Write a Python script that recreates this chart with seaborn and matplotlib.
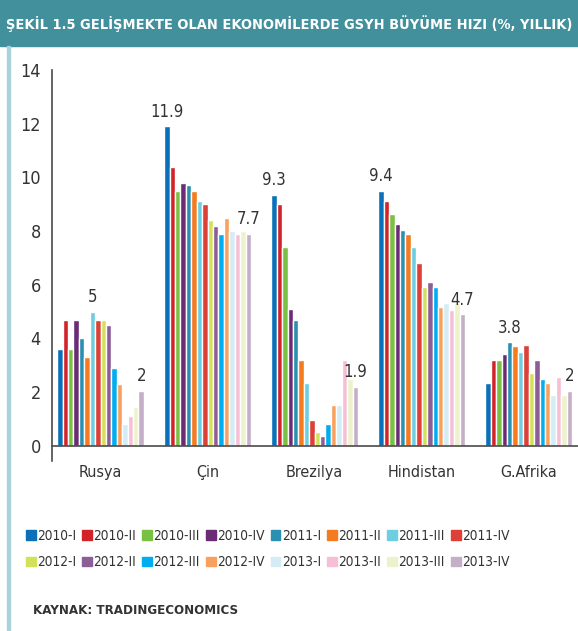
import pandas as pd
import matplotlib.pyplot as plt
import matplotlib.patches as mpatches
import seaborn as sns

countries = ["Rusya", "Çin", "Brezilya", "Hindistan", "G.Afrika"]
periods = ["2010-I", "2010-II", "2010-III", "2010-IV",
           "2011-I", "2011-II", "2011-III", "2011-IV",
           "2012-I", "2012-II", "2012-III", "2012-IV",
           "2013-I", "2013-II", "2013-III", "2013-IV"]
colors = ["#0a70b9", "#d2232a", "#7ac143", "#6b2c75",
          "#2a8fb0", "#f47b20", "#6dcde1", "#dc4036",
          "#d4e05a", "#8c5e98", "#00aeef", "#f9a05e",
          "#d4ecf3", "#f6bfd6", "#eef2cc", "#c5afc8"]

rusya = [3.6, 4.7, 3.6, 4.7, 4.0, 3.3, 5.0, 4.7, 4.7, 4.5, 2.9, 2.3, 0.8, 1.1, 1.45, 2.05]
cin = [11.9, 10.4, 9.5, 9.8, 9.7, 9.5, 9.1, 9.0, 8.4, 8.2, 7.9, 8.5, 8.0, 7.9, 8.0, 7.9]
brezilya = [9.35, 9.0, 7.4, 5.1, 4.7, 3.2, 2.35, 0.95, 0.5, 0.35, 0.8, 1.5, 1.5, 3.2, 2.5, 2.2]
hindistan = [9.5, 9.1, 8.65, 8.25, 8.05, 7.9, 7.4, 6.8, 5.9, 6.1, 5.9, 5.15, 5.3, 5.05, 5.3, 4.9]
gafrika = [2.35, 3.2, 3.2, 3.4, 3.85, 3.7, 3.5, 3.75, 2.7, 3.2, 2.5, 2.35, 1.9, 2.55, 1.9, 2.05]

# (country, period, label)
notes = [("Rusya", "2011-III", "5"), ("Rusya", "2013-IV", "2"),
         ("Çin", "2010-I", "11.9"), ("Çin", "2013-IV", "7.7"),
         ("Brezilya", "2010-I", "9.3"), ("Brezilya", "2013-IV", "1.9"),
         ("Hindistan", "2010-I", "9.4"), ("Hindistan", "2013-IV", "4.7"),
         ("G.Afrika", "2011-I", "3.8"), ("G.Afrika", "2013-IV", "2")]

rows = []
for c, vals in zip(countries, [rusya, cin, brezilya, hindistan, gafrika]):
    for p, v in zip(periods, vals):
        rows.append(dict(country=c, period=p, value=v))
df = pd.DataFrame(rows)

sns.set_style("white")
plt.rcParams["font.family"] = ["DejaVu Sans"]
plt.rcParams["font.stretch"] = "condensed"
TXT = "#333333"
AX = "#4a4a4a"

fig = plt.figure(figsize=(5.78, 6.31), dpi=100)
ax = fig.add_axes([0.09, 1 - 461 / 631, 0.91, (461 - 70) / 631])

sns.barplot(data=df, x="country", y="value", hue="period", order=countries,
            hue_order=periods, palette=colors, saturation=1, errorbar=None,
            width=0.81, ax=ax, legend=True)

for c, p, t in notes:
    bar = ax.containers[periods.index(p)][countries.index(c)]
    ax.annotate(t, (bar.get_x() + bar.get_width() / 2, bar.get_height()),
                xytext=(0, 4), textcoords="offset points", ha="center",
                va="bottom", fontsize=12, color=TXT)

ax.set_xlim(-0.453, 4.46)
ax.set_ylim(-0.57, 14)
ax.set_yticks(range(0, 15, 2))
ax.set_xlabel("")
ax.set_ylabel("")
for s in ["top", "right"]:
    ax.spines[s].set_visible(False)
ax.spines["bottom"].set_position(("data", 0))
for s in ["left", "bottom"]:
    ax.spines[s].set_color(AX)
    ax.spines[s].set_linewidth(1.2)

ax.set_xticks([0.5, 1.5, 2.5, 3.5])
ax.set_xticklabels([])
ax.set_xticks(range(len(countries)), minor=True)
ax.set_xticklabels(countries, minor=True)
ax.tick_params(axis="x", which="major", direction="inout", length=11,
               width=1.2, color=AX)
ax.tick_params(axis="x", which="minor", length=0, pad=14, labelsize=11.5,
               labelcolor=TXT)
ax.tick_params(axis="y", direction="out", length=6, width=1.2, color=AX,
               pad=2, labelsize=13, labelcolor=TXT)

# legend in row order
ax.get_legend().remove()
order = [i + 8 * r for i in range(8) for r in range(2)]
handles = [mpatches.Patch(color=colors[i]) for i in order]
labels = [periods[i] for i in order]
leg = fig.legend(handles, labels, ncol=8, loc="center left",
                 bbox_to_anchor=(0.045, 1 - 549 / 631), frameon=False,
                 fontsize=9.8, handlelength=0.7, handleheight=0.7,
                 handletextpad=0.12, columnspacing=0.45, labelspacing=0.95,
                 borderpad=0, borderaxespad=0, labelcolor=TXT)

# title band and frame line
fig.patches.append(mpatches.Rectangle((0, 1 - 46 / 631), 1, 46 / 631,
                                      transform=fig.transFigure,
                                      color="#41909b", zorder=0))
fig.patches.append(mpatches.Rectangle((7 / 578, 0), 2.5 / 578, 1 - 46 / 631,
                                      transform=fig.transFigure,
                                      color="#a9d2da", zorder=0))
title = fig.text(0.011, 1 - 24 / 631,
                 "ŞEKİL 1.5 GELİŞMEKTE OLAN EKONOMİLERDE GSYH BÜYÜME HIZI (%, YILLIK)",
                 color="white", fontsize=15, fontweight="bold", va="center",
                 ha="left")
# shrink the title so it fits inside the band
r = fig.canvas.get_renderer()
w = title.get_window_extent(r).width
title.set_fontsize(15 * 564 / w)

fig.text(33 / 578, 1 - 610 / 631, "KAYNAK: TRADINGECONOMICS", color=TXT,
         fontsize=9.5, fontweight="bold", va="center", ha="left")

plt.savefig("out.png", dpi=100)
